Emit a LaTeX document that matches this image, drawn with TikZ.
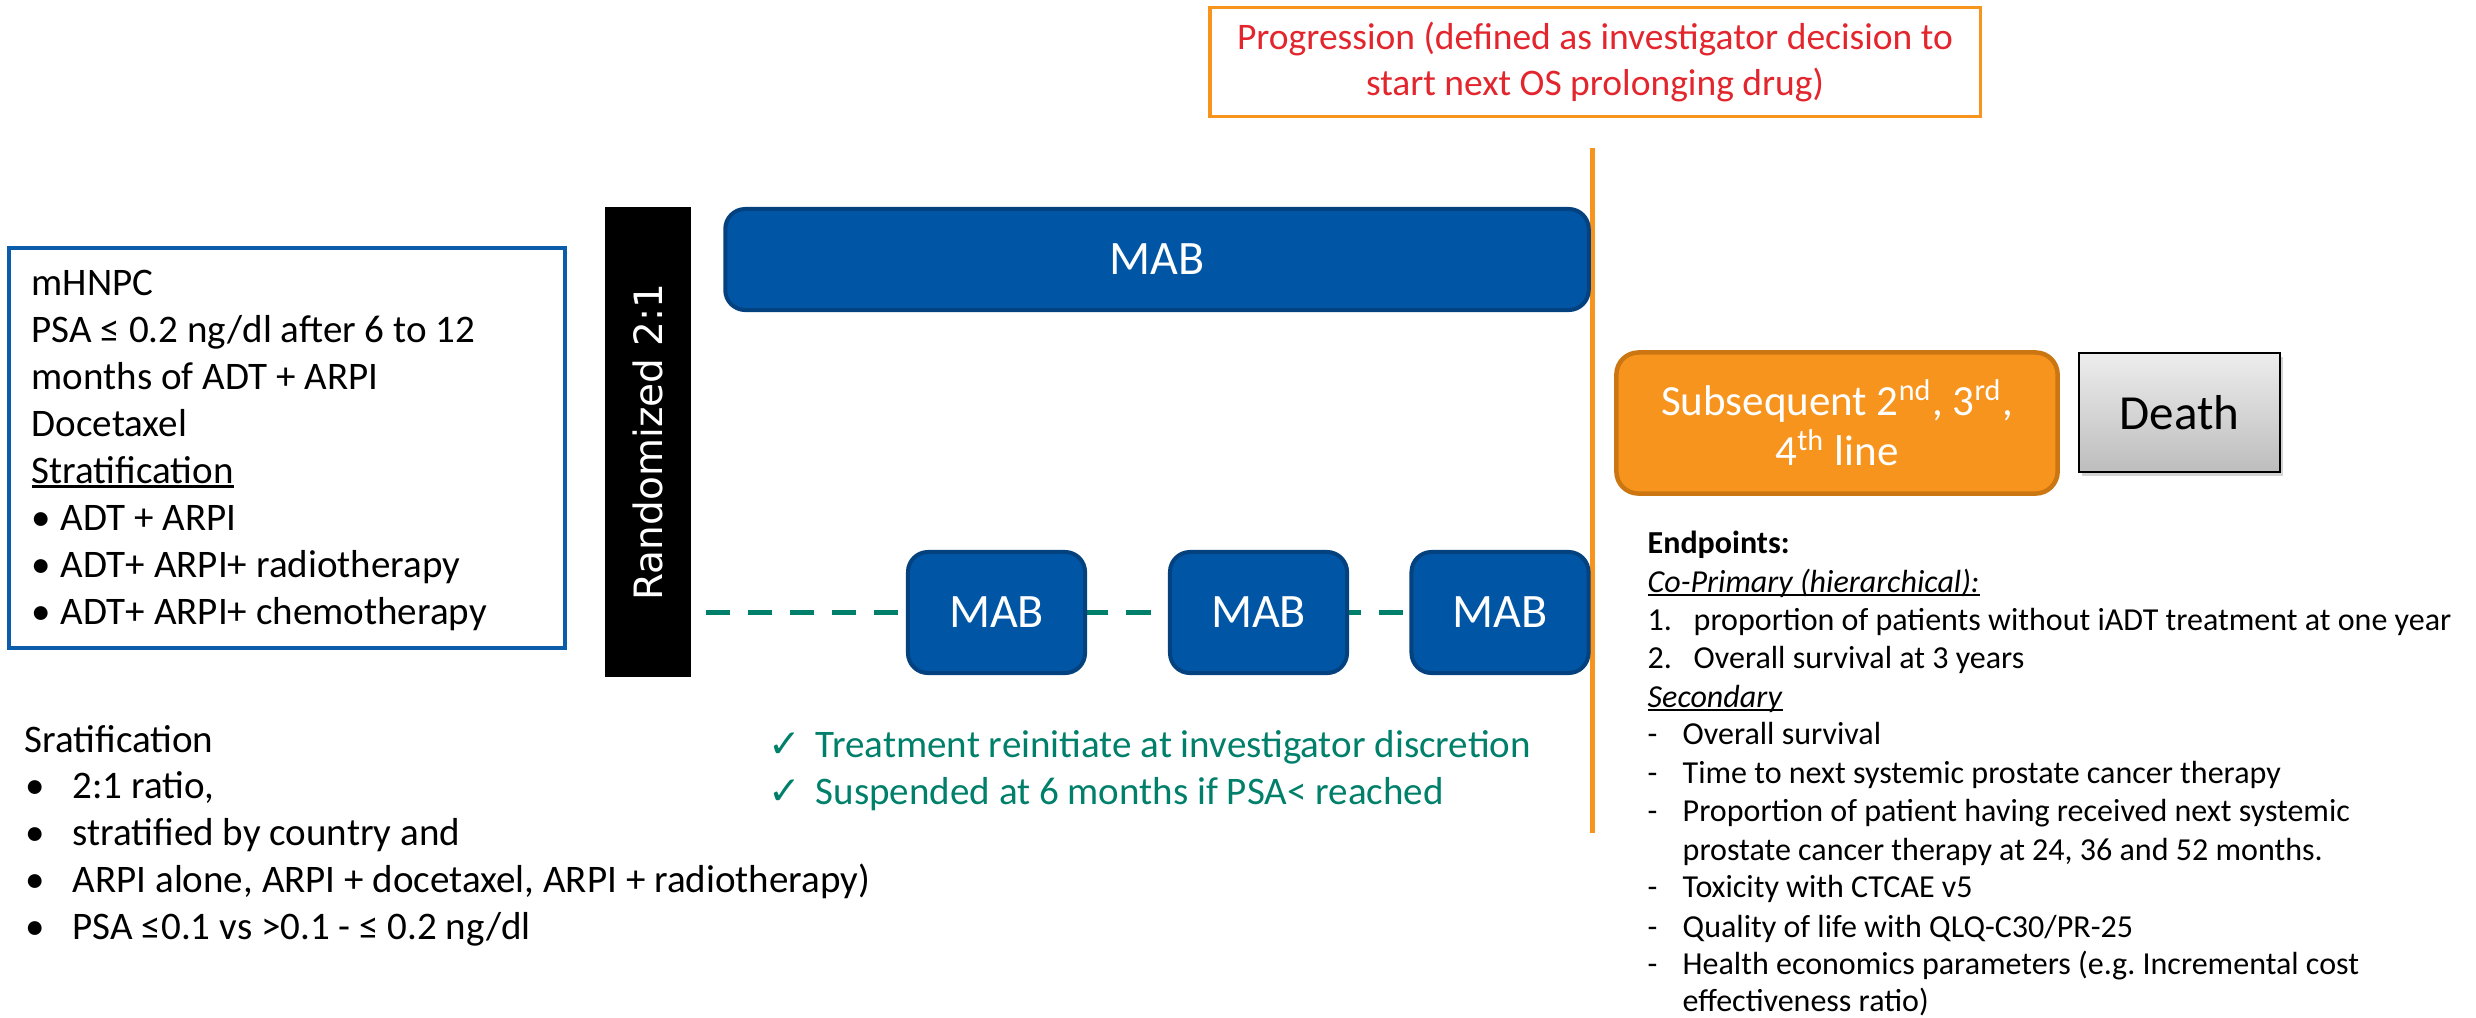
\documentclass[tikz,border=0pt]{standalone}
\usepackage{fontspec}
\setmainfont{Carlito}
\newfontfamily\sansdv{DejaVu Sans}
\usetikzlibrary{positioning,shadows,backgrounds}

\definecolor{inclblue}{HTML}{0B5CAA}
\definecolor{mabblue}{HTML}{0055A5}
\definecolor{mabedge}{HTML}{03417F}
\definecolor{progorange}{HTML}{F7941D}
\definecolor{progedge}{HTML}{CC7612}
\definecolor{progred}{HTML}{E3262D}
\definecolor{armgreen}{HTML}{00806A}
\definecolor{deathtop}{HTML}{EDEDED}
\definecolor{deathbot}{HTML}{BDBDBD}

\newcommand{\fsbody}{\fontsize{0.39cm}{0.47cm}\selectfont}
\newcommand{\fsprog}{\fontsize{0.375cm}{0.45cm}\selectfont}
\newcommand{\fsmab}{\fontsize{0.48cm}{0.58cm}\selectfont}
\newcommand{\fssub}{\fontsize{0.43cm}{0.50cm}\selectfont}
\newcommand{\fsdeath}{\fontsize{0.49cm}{0.59cm}\selectfont}
\newcommand{\fsend}{\fontsize{0.32cm}{0.385cm}\selectfont}
\newcommand{\fsrand}{\sansdv\fontsize{0.39cm}{0.47cm}\selectfont}
\newcommand{\ulin}[1]{\setbox0\hbox{#1}\rlap{\rule[-0.13em]{\wd0}{0.07em}}\box0}

\tikzset{
  txt/.style={anchor=base west, inner sep=0pt, font=\fsbody},
  endtxt/.style={anchor=base west, inner sep=0pt, font=\fsend},
  mabbox/.style={draw=mabedge, fill=mabblue, line width=0.04cm, rounded corners=0.2cm, text=white, font=\fsmab},
}

\begin{document}
\begin{tikzpicture}[x=0.01cm, y=-0.01cm]
\useasboundingbox (0,0) rectangle (2476,1017);

\node[draw=progorange, line width=0.035cm, minimum width=7.7cm, minimum height=1.09cm, align=center, text=progred, font=\fsprog] (prog) at (1595,62) {Progression (defined as investigator decision to\\start next OS prolonging drug)};
\coordinate (progtop) at (1592.5,148);
\coordinate (progbot) at (1592.5,833);
\draw[progorange, line width=0.05cm] (progtop) -- (progbot);

\node[draw=inclblue, line width=0.035cm, minimum width=5.56cm, minimum height=4.0cm] (incl) at (287,448) {};
\foreach \txt [count=\i from 0] in {mHNPC, {PSA ≤ 0.2 ng/dl after 6 to 12}, months of ADT + ARPI, Docetaxel, \ulin{Stratification}}
  \node[txt] (incl\i) at (31,295+47*\i) {\txt};
\foreach \txt [count=\i from 0] in {ADT + ARPI, ADT+ ARPI+ radiotherapy, ADT+ ARPI+ chemotherapy} {
  \node[txt] (inclb\i) at (31,530+47*\i) {•};
  \node[txt] (incls\i) at (60,530+47*\i) {\txt};
}

\node[fill=black, minimum width=0.85cm, minimum height=4.7cm, inner sep=0pt] (rand) at (648,442) {};
\node[rotate=90, text=white, font=\fsrand] (randtxt) at (rand.center) {Randomized 2:1};

\node[mabbox, minimum width=8.63cm, minimum height=1.01cm] (mabtop) at (1157,259.5) {MAB};
\foreach \x/\i in {996.5/1, 1258.5/2, 1500/3}
  \node[mabbox, minimum width=1.77cm, minimum height=1.21cm] (mab\i) at (\x,612.5) {MAB};
\begin{scope}[on background layer]
\draw[armgreen, line width=0.055cm, dash pattern=on 0.24cm off 0.18cm, shorten <=0.15cm] (rand.east |- mab1.center) -- (mab3.center);
\end{scope}

\node[txt, text=armgreen] (chk1) at (768,757) {\sansdv ✓};
\node[txt, text=armgreen] (reinit) at (815,757) {Treatment reinitiate at investigator discretion};
\node[txt, text=armgreen] (chk2) at (768,804) {\sansdv ✓};
\node[txt, text=armgreen] (suspend) at (815,804) {Suspended at 6 months if PSA< reached};

\node[txt] (strat) at (24,752) {Sratification};
\foreach \txt [count=\i from 0] in {{2:1 ratio,}, stratified by country and, {ARPI alone, ARPI + docetaxel, ARPI + radiotherapy)}, {PSA ≤0.1 vs >0.1 - ≤ 0.2 ng/dl}} {
  \node[txt] (stratb\i) at (25,798+47*\i) {•};
  \node[txt] (strats\i) at (72,798+47*\i) {\txt};
}

\node[draw=progedge, fill=progorange, line width=0.045cm, rounded corners=0.22cm, minimum width=4.41cm, minimum height=1.41cm, align=center, text=white, font=\fssub] (subs) at (1837,423) {Subsequent 2\textsuperscript{nd}, 3\textsuperscript{rd},\\4\textsuperscript{th} line};
\node[draw=black, line width=0.02cm, top color=deathtop, bottom color=deathbot, drop shadow={shadow xshift=0.03cm, shadow yshift=-0.04cm, opacity=0.35}, minimum width=2.01cm, minimum height=1.19cm, font=\fsdeath] (death) at (2179.5,412.5) {Death};

\node[endtxt] (ep) at (1647,553) {\textbf{Endpoints:}};
\node[endtxt] (coprim) at (1647,592) {\ulin{\textit{Co-Primary (hierarchical):}}};
\foreach \y/\n/\txt in {630/1/{proportion of patients without iADT treatment at one year}, 668/2/{Overall survival at 3 years}} {
  \node[endtxt] (num\n) at (1647,\y) {\n.};
  \node[endtxt] (prim\n) at (1693,\y) {\txt};
}
\node[endtxt] (sec) at (1647,707) {\ulin{\textit{Secondary}}};
\foreach \y/\txt [count=\i] in {744/{Overall survival}, 783/{Time to next systemic prostate cancer therapy}, 821/{Proportion of patient having received next systemic}, 897/{Toxicity with CTCAE v5}, 937/{Quality of life with QLQ-C30/PR-25}, 974/{Health economics parameters (e.g.\ Incremental cost}} {
  \node[endtxt] (secd\i) at (1647,\y) {-};
  \node[endtxt] (secs\i) at (1682,\y) {\txt};
}
\node[endtxt] (secc1) at (1682,860) {prostate cancer therapy at 24, 36 and 52 months.};
\node[endtxt] (secc2) at (1682,1011) {effectiveness ratio)};
\end{tikzpicture}
\end{document}
